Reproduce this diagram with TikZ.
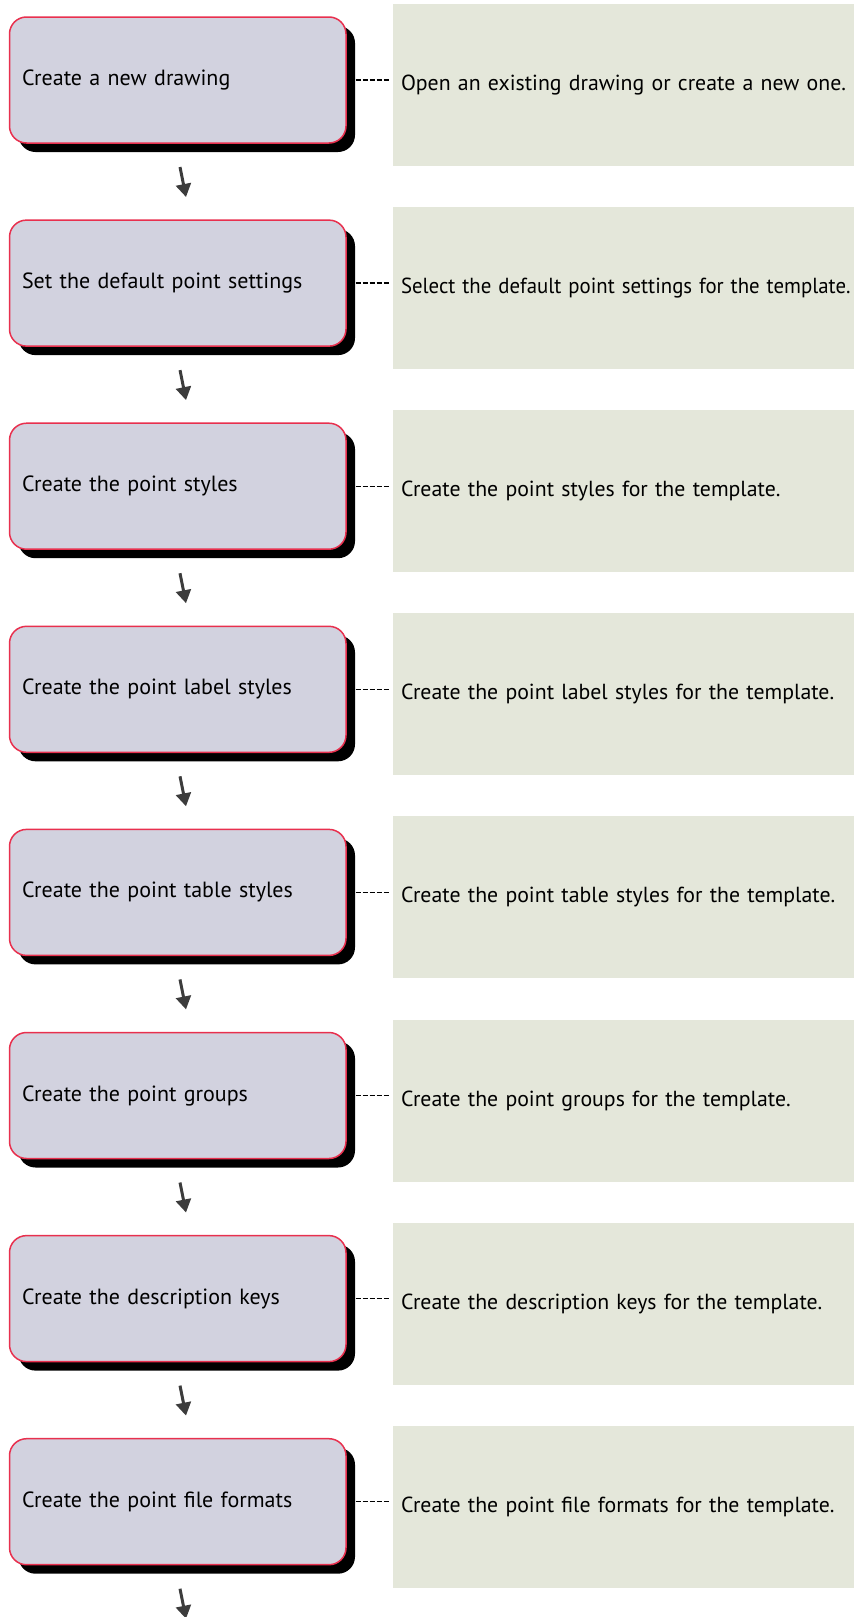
\documentclass[tikz,border=0pt]{standalone}
\usepackage{fontspec}
\setmainfont[WordSpace=0.77]{PT Sans}
\usetikzlibrary{shadows,arrows.meta,calc}
\definecolor{stepfill}{HTML}{D2D2DF}
\definecolor{stepline}{HTML}{E8304E}
\definecolor{notefill}{HTML}{E4E7DA}
\definecolor{arrowgray}{HTML}{3C3C3C}

\begin{document}
\begin{tikzpicture}[x=1pt,y=-1pt,
  stepbox/.style={draw=stepline, line width=1.5pt, fill=stepfill,
    rounded corners=17pt, minimum height=126pt, text width=311.5pt,
    inner xsep=12.5pt, inner ysep=0pt, outer sep=0pt, align=left,
    text height=16pt, text depth=5pt, font=\fontsize{22}{26}\selectfont,
    drop shadow={shadow xshift=9pt, shadow yshift=-9pt, fill=black, opacity=1}},
  notebox/.style={fill=notefill, minimum height=162pt, text width=445pt,
    inner xsep=8pt, inner ysep=0pt, outer sep=0pt, align=left,
    text height=16pt, text depth=5pt, font=\fontsize{21.8}{26}\selectfont},
  link/.style={draw=black, line width=1.3pt, dash pattern=on 5pt off 2pt},
  flow/.style={draw=arrowgray, line width=3pt, -{Triangle[width=15pt,length=13pt]}}
]
\useasboundingbox (0,0) rectangle (854,1617);

\foreach \i/\s/\d in {
  1/Create a new drawing/Open an existing drawing or create a new one.,
  2/Set the default point settings/{\scalebox{0.955}[1]{Select the default point settings for the template.}},
  3/Create the point styles/Create the point styles for the template.,
  4/Create the point label styles/Create the point label styles for the template.,
  5/Create the point table styles/Create the point table styles for the template.,
  6/Create the point groups/Create the point groups for the template.,
  7/Create the description keys/Create the description keys for the template.,
  8/Create the point file formats/Create the point file formats for the template.}
{
  \node[notebox] (n\i) at (623.5, {85+203.1*(\i-1)}) {\mbox{\d}};
  \node[stepbox] (b\i) at (177.75, {80+203.1*(\i-1)}) {\s};
  \draw[link] ([xshift=9.5pt]b\i.east) -- ([xshift=-4pt]b\i.east -| n\i.west);
  \draw[flow] ($(b\i.south)+(2.25,24)$) -- ($(b\i.south)+(8.25,54)$);
}
\end{tikzpicture}
\end{document}
